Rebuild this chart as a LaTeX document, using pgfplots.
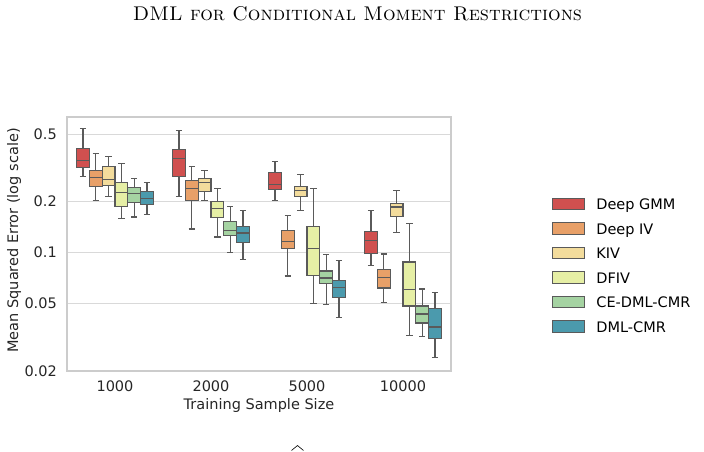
\documentclass[border=0pt]{standalone}
\usepackage{fontspec}
\newfontfamily\dejavu{DejaVu Sans}
\usepackage{pgfplots}
\pgfplotsset{compat=1.18}
\definecolor{cGMM}{HTML}{D0504F}
\definecolor{cDIV}{HTML}{E8A068}
\definecolor{cKIV}{HTML}{F3DC9C}
\definecolor{cDFIV}{HTML}{E6EFA5}
\definecolor{cCE}{HTML}{A5D3A2}
\definecolor{cDML}{HTML}{4B9AAD}
\definecolor{edgec}{HTML}{5A5A5A}
\definecolor{gridc}{HTML}{D9D9D9}
\definecolor{framec}{HTML}{CCCCCC}
\newcommand\chartfont{\dejavu\fontsize{14.5}{17.4}\selectfont}
% box: position, lower whisker, lower quartile, median, upper quartile, upper whisker, colour
\newcommand\bx[7]{%
 \pgfmathsetmacro\xa{#1-0.0667}\pgfmathsetmacro\xb{#1+0.0667}%
 \pgfmathsetmacro\ca{#1-0.0333}\pgfmathsetmacro\cb{#1+0.0333}%
 \addplot[forget plot, mark=none, draw=edgec, line width=1.2pt] coordinates {(#1,#2) (#1,#6)};
 \addplot[forget plot, mark=none, draw=edgec, line width=1.2pt] coordinates {(\ca,#2) (\cb,#2)};
 \addplot[forget plot, mark=none, draw=edgec, line width=1.2pt] coordinates {(\ca,#6) (\cb,#6)};
 \addplot[forget plot, mark=none, draw=edgec, fill=#7, line width=1.2pt] coordinates {(\xa,#3) (\xb,#3) (\xb,#5) (\xa,#5)} -- cycle;
 \addplot[forget plot, mark=none, draw=edgec, line width=1.2pt] coordinates {(\xa,#4) (\xb,#4)};
}
\begin{document}
\begin{tikzpicture}
\useasboundingbox (0,0) rectangle (704pt,451pt);
\node[anchor=base] at (357.5pt,431pt) {\resizebox{449pt}{!}{\textsc{DML for Conditional Moment Restrictions}}};
\begin{axis}[
  at={(67pt,80pt)}, anchor=south west,
  scale only axis, width=384pt, height=254pt,
  ymode=log, ymin=0.02, ymax=0.63,
  xmin=-0.5, xmax=3.5,
  xtick={0,1,2,3}, xticklabels={1000,2000,5000,10000},
  ytick={0.02,0.05,0.1,0.2,0.5}, yticklabels={0.02,0.05,0.1,0.2,0.5},
  minor ytick={},
  major tick length=0pt,
  ymajorgrids, grid style={gridc, line width=0.8pt},
  axis line style={framec, line width=1.2pt},
  tick style={draw=none},
  ticklabel style={font=\chartfont, text=black!85},
  xticklabel style={anchor=base, yshift=-20.7pt, inner sep=0pt},
  yticklabel style={anchor=base east, xshift=-10pt, yshift=-5.3pt, inner sep=0pt},
  legend style={at={(1.263,0.683)}, anchor=north west, draw=none, fill=none,
    font=\chartfont, inner sep=0pt, row sep=12pt,
    nodes={inner sep=0pt, text height=10.5pt, text depth=0pt},
    /tikz/every odd column/.append style={column sep=11pt}},
  legend cell align=left,
  legend image code/.code={\draw[#1] (0pt,-5pt) rectangle (32pt,6.3pt);},
]
% 1000
\bx{-0.3333}{0.2795}{0.3176}{0.3472}{0.4089}{0.5366}{cGMM}
\bx{-0.2}{0.2016}{0.2462}{0.2757}{0.3032}{0.3841}{cDIV}
\bx{-0.0667}{0.2149}{0.2486}{0.2698}{0.3201}{0.3703}{cKIV}
\bx{0.0667}{0.1579}{0.1876}{0.2260}{0.2576}{0.3352}{cDFIV}
\bx{0.2}{0.1622}{0.1981}{0.2218}{0.2406}{0.2746}{cCE}
\bx{0.3333}{0.1667}{0.1928}{0.2084}{0.2291}{0.2589}{cDML}
% 2000
\bx{0.6667}{0.2129}{0.2795}{0.3603}{0.4055}{0.5272}{cGMM}
\bx{0.8}{0.1378}{0.2016}{0.2386}{0.2647}{0.3201}{cDIV}
\bx{0.9333}{0.2035}{0.2291}{0.2576}{0.2720}{0.3060}{cKIV}
\bx{1.0667}{0.1236}{0.1609}{0.1818}{0.2000}{0.2386}{cDFIV}
\bx{1.2}{0.0995}{0.1260}{0.1354}{0.1524}{0.1868}{cCE}
\bx{1.3333}{0.0909}{0.1150}{0.1305}{0.1416}{0.1760}{cDML}
% 5000
\bx{1.6667}{0.2035}{0.2354}{0.2530}{0.2979}{0.3425}{cGMM}
\bx{1.8}{0.0727}{0.1060}{0.1166}{0.1349}{0.1645}{cDIV}
\bx{1.9333}{0.1760}{0.2149}{0.2332}{0.2452}{0.2871}{cKIV}
\bx{2.0667}{0.0500}{0.0734}{0.1056}{0.1424}{0.2386}{cDFIV}
\bx{2.2}{0.0495}{0.0656}{0.0708}{0.0779}{0.0973}{cCE}
\bx{2.3333}{0.0413}{0.0545}{0.0621}{0.0686}{0.0897}{cDML}
% 10000
\bx{2.6667}{0.0841}{0.0986}{0.1171}{0.1336}{0.1760}{cGMM}
\bx{2.8}{0.0507}{0.0618}{0.0715}{0.0794}{0.0981}{cDIV}
\bx{2.9333}{0.1312}{0.1631}{0.1858}{0.1936}{0.2323}{cKIV}
\bx{3.0667}{0.0324}{0.0484}{0.0605}{0.0880}{0.1475}{cDFIV}
\bx{3.2}{0.0321}{0.0384}{0.0434}{0.0484}{0.0610}{cCE}
\bx{3.3333}{0.0239}{0.0311}{0.0364}{0.0465}{0.0581}{cDML}
\addlegendimage{fill=cGMM, draw=edgec, line width=1.2pt}
\addlegendimage{fill=cDIV, draw=edgec, line width=1.2pt}
\addlegendimage{fill=cKIV, draw=edgec, line width=1.2pt}
\addlegendimage{fill=cDFIV, draw=edgec, line width=1.2pt}
\addlegendimage{fill=cCE, draw=edgec, line width=1.2pt}
\addlegendimage{fill=cDML, draw=edgec, line width=1.2pt}
\legend{Deep GMM, Deep IV, KIV, DFIV, CE-DML-CMR, DML-CMR}
\end{axis}
\node[anchor=base, font=\chartfont, text=black!85] at (259pt,42pt) {Training Sample Size};
\node[rotate=90, font=\chartfont, text=black!85] at (14pt,210.5pt) {Mean Squared Error (log scale)};
\draw[black, line width=0.6pt] (291.5pt,0.5pt) -- (297.5pt,5.5pt) -- (303.5pt,0.5pt);
\end{tikzpicture}
\end{document}
